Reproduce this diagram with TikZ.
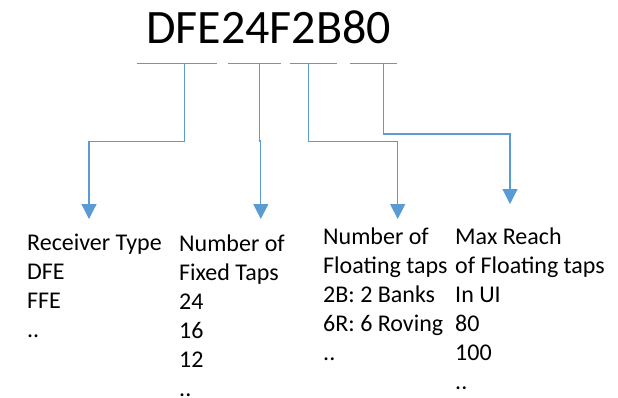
\documentclass[tikz,border=0pt]{standalone}
\usepackage{fontspec}
\setmainfont{Carlito}
\usetikzlibrary{arrows.meta}
\definecolor{lineblue}{RGB}{91,155,213}
\begin{document}
\begin{tikzpicture}[x=1pt,y=-1pt,
  bar/.style={draw=lineblue,line width=1.2pt},
  conn/.style={draw=lineblue,line width=1.2pt,-{Triangle[width=15pt,length=15pt]}},
  col/.style={anchor=north west,inner sep=0pt,align=left,font=\fontsize{24}{29}\selectfont}]
\useasboundingbox (0,0) rectangle (618,397);
\node[anchor=base west,inner sep=0pt,font=\fontsize{48}{58}\selectfont] (title) at (146,43) {DFE24F2B80};
% bars
\coordinate (b1l) at (136.7,63.3); \coordinate (b1r) at (217,63.3);
\coordinate (b2l) at (227.7,63.3); \coordinate (b2r) at (280.7,63.3);
\coordinate (b3l) at (290,63.3);   \coordinate (b3r) at (336.7,63.3);
\coordinate (b4l) at (350,63.3);   \coordinate (b4r) at (396.7,63.3);
\draw[bar] (b1l) -- (b1r);
\draw[bar] (b2l) -- (b2r);
\draw[bar] (b3l) -- (b3r);
\draw[bar] (b4l) -- (b4r);
% connector start points and tips
\coordinate (s1) at (184.3,63.3); \coordinate (t1) at (89,219);
\coordinate (s2) at (259.3,63.3); \coordinate (t2) at (260.8,219);
\coordinate (s3) at (308.7,63.3); \coordinate (t3) at (397.7,219);
\coordinate (s4) at (383.3,63.3); \coordinate (t4) at (510,204);
\draw[conn] (s1) -- (184.3,141.7) -- (89,141.7) -- (t1);
\draw[conn] (s2) -- (259.3,141) -- (260.8,141) -- (t2);
\draw[conn] (s3) -- (308.7,141.7) -- (397.7,141.7) -- (t3);
\draw[conn] (s4) -- (383.3,134) -- (510,134) -- (t4);
% columns (top = first baseline - strut height 20.3)
\node[col] (c1) at (27,230.4) {\strut Receiver Type\\DFE\\FFE\\..};
\node[col] (c2) at (179,230.7) {\strut Number of\\Fixed Taps\\24\\16\\12\\..};
\node[col] (c3) at (323,224.4) {\strut Number of\\Floating taps\\2B: 2 Banks\\6R: 6 Roving\\..};
\node[col] (c4) at (455,224.4) {\strut Max Reach\\of Floating taps\\In UI\\80\\100\\..};
\end{tikzpicture}
\end{document}
